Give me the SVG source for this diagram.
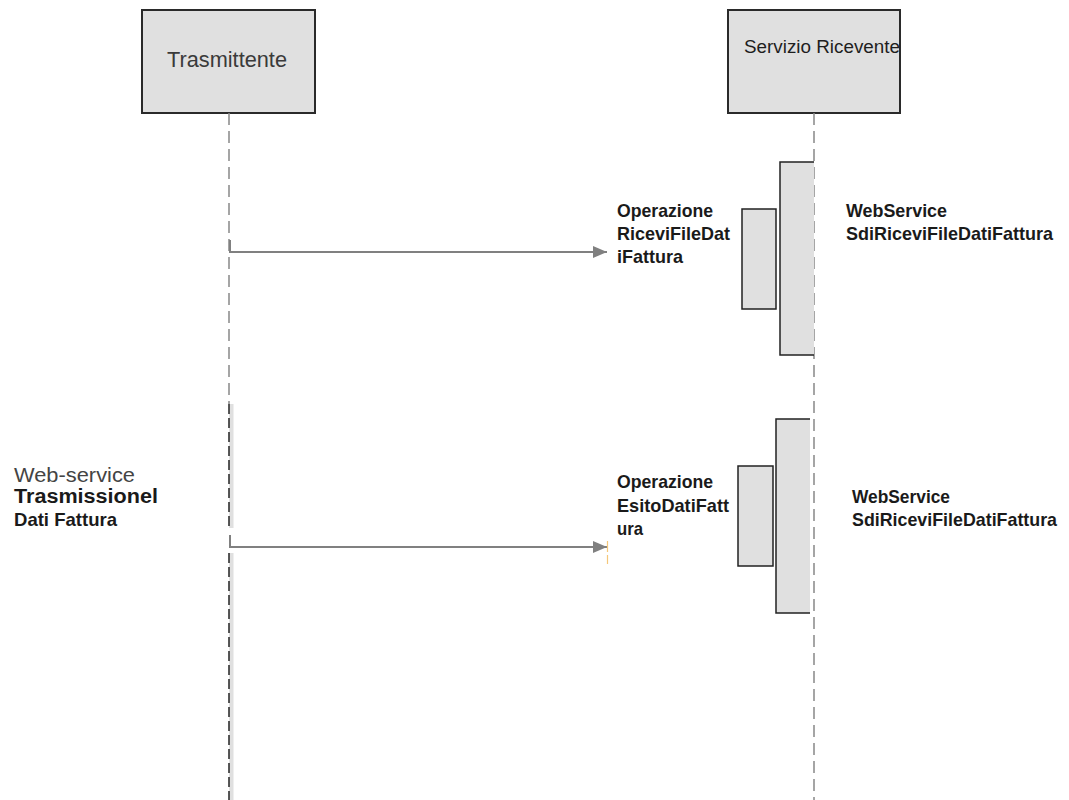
<svg xmlns="http://www.w3.org/2000/svg" width="1069" height="800" viewBox="0 0 1069 800">
<defs>
<style>
.box{fill:#e0e0e0;stroke:#2a2a2a;stroke-width:2}
.act{fill:#e0e0e0;stroke:#222;stroke-width:1.5}
.life{stroke:#888;stroke-width:1.5;stroke-dasharray:12 6;fill:none}
.msg{stroke:#808080;stroke-width:2;fill:none}
.lbl{font-family:"Liberation Sans",Arial,sans-serif;font-weight:bold;font-size:18.5px;fill:#1a1a1a}
.reg{font-family:"Liberation Sans",Arial,sans-serif;fill:#3a3a3a}
</style>
<marker id="ah" markerWidth="14" markerHeight="12" refX="14" refY="6" orient="auto" markerUnits="userSpaceOnUse">
<path d="M0,0 L14,6 L0,12 Z" fill="#808080"/>
</marker>
</defs>
<rect width="1069" height="800" fill="#fff"/>

<g id="trasmittente">
<rect class="box" x="142" y="10" width="173" height="103"/>
<text class="reg" x="167" y="67" font-size="21.5" textLength="120" lengthAdjust="spacingAndGlyphs">Trasmittente</text>
</g>

<g id="servizio-ricevente">
<rect class="box" x="728" y="10" width="172" height="103"/>
<text class="reg" x="744" y="53" font-size="17.5" textLength="156" lengthAdjust="spacingAndGlyphs" style="fill:#1e1e1e">Servizio Ricevente</text>
</g>

<g id="lifelines">
<line class="life" x1="229" y1="113" x2="229" y2="404"/>
<rect x="229" y="404" width="4.5" height="124" fill="#e0e0e0"/>
<line x1="229" y1="404" x2="229" y2="528" stroke="#222" stroke-width="1.5" stroke-dasharray="10 4"/>
<rect x="229" y="553" width="4.5" height="247" fill="#e0e0e0"/>
<line x1="229" y1="553" x2="229" y2="800" stroke="#222" stroke-width="1.5" stroke-dasharray="10 4"/>
<line class="life" x1="814" y1="113" x2="814" y2="800"/>
</g>

<g id="activation-1">
<rect x="780" y="162" width="34" height="193" fill="#e0e0e0"/>
<path d="M814,162 H780 V355 H814" fill="none" stroke="#222" stroke-width="1.5"/>
<rect class="act" x="742" y="209" width="34" height="100"/>
</g>

<g id="activation-2">
<rect x="776" y="419" width="34" height="194" fill="#e0e0e0"/>
<path d="M810,419 H776 V613 H810" fill="none" stroke="#222" stroke-width="1.5"/>
<rect class="act" x="738" y="466" width="35" height="100"/>
</g>

<g id="connectors">
<path class="msg" d="M230,240 V252 H607" marker-end="url(#ah)"/>
<path class="msg" d="M230,535 V547 H607" marker-end="url(#ah)"/>
<line x1="607.5" y1="541" x2="607.5" y2="552" stroke="#f5c77a" stroke-width="1.2"/>
<line x1="607.5" y1="555" x2="607.5" y2="564" stroke="#f5c77a" stroke-width="1.2"/>
</g>

<g id="label-op1">
<text class="lbl" x="617" y="217" textLength="96" lengthAdjust="spacingAndGlyphs">Operazione</text>
<text class="lbl" x="617" y="240" textLength="113" lengthAdjust="spacingAndGlyphs">RiceviFileDat</text>
<text class="lbl" x="617" y="263" textLength="66" lengthAdjust="spacingAndGlyphs">iFattura</text>
</g>

<g id="label-ws1">
<text class="lbl" x="846" y="217" textLength="101" lengthAdjust="spacingAndGlyphs">WebService</text>
<text class="lbl" x="846" y="240" textLength="207" lengthAdjust="spacingAndGlyphs">SdiRiceviFileDatiFattura</text>
</g>

<g id="label-op2">
<text class="lbl" x="617" y="488" textLength="96" lengthAdjust="spacingAndGlyphs">Operazione</text>
<text class="lbl" x="617" y="512" textLength="112" lengthAdjust="spacingAndGlyphs">EsitoDatiFatt</text>
<text class="lbl" x="617" y="535" textLength="26" lengthAdjust="spacingAndGlyphs">ura</text>
</g>

<g id="label-ws2">
<text class="lbl" x="852" y="503" textLength="98" lengthAdjust="spacingAndGlyphs">WebService</text>
<text class="lbl" x="852" y="526" textLength="205" lengthAdjust="spacingAndGlyphs">SdiRiceviFileDatiFattura</text>
</g>

<g id="label-left">
<text class="reg" x="14" y="482" font-size="20" textLength="121" lengthAdjust="spacingAndGlyphs" style="fill:#444">Web-service</text>
<text x="14" y="503" font-family="Liberation Sans, Arial, sans-serif" font-weight="bold" font-size="20" fill="#1a1a1a" textLength="144" lengthAdjust="spacingAndGlyphs">Trasmissionel</text>
<text class="lbl" x="14" y="526" textLength="103" lengthAdjust="spacingAndGlyphs">Dati Fattura</text>
</g>
</svg>
